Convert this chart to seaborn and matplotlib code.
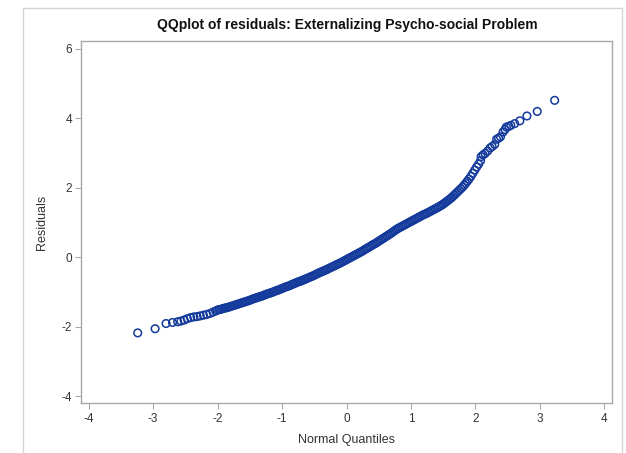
import matplotlib
matplotlib.use("Agg")
import matplotlib.pyplot as plt
from matplotlib.lines import Line2D
import seaborn as sns
import pandas as pd

title = "QQplot of residuals: Externalizing Psycho-social Problem"
x_label = "Normal Quantiles"
y_label = "Residuals"
x_ticks = [-4, -3, -2, -1, 0, 1, 2, 3, 4]
y_ticks = [-4, -2, 0, 2, 4, 6]

normal_quantiles = [
    -3.24, -2.97, -2.80, -2.70, -2.62, -2.57, -2.52, -2.47, -2.42, -2.37,
    -2.32, -2.27, -2.22, -2.17, -2.12, -2.07, -2.03,
    -2.000, -1.975, -1.950, -1.925, -1.900, -1.875, -1.850, -1.825, -1.800, -1.775,
    -1.750, -1.725, -1.700, -1.675, -1.650, -1.625, -1.600, -1.575, -1.550, -1.525,
    -1.500, -1.475, -1.450, -1.425, -1.400, -1.375, -1.350, -1.325, -1.300, -1.275,
    -1.250, -1.225, -1.200, -1.175, -1.150, -1.125, -1.100, -1.075, -1.050, -1.025,
    -1.000, -0.975, -0.950, -0.925, -0.900, -0.875, -0.850, -0.825, -0.800, -0.775,
    -0.750, -0.725, -0.700, -0.675, -0.650, -0.625, -0.600, -0.575, -0.550, -0.525,
    -0.500, -0.475, -0.450, -0.425, -0.400, -0.375, -0.350, -0.325, -0.300, -0.275,
    -0.250, -0.225, -0.200, -0.175, -0.150, -0.125, -0.100, -0.075, -0.050, -0.025,
    0.000, 0.025, 0.050, 0.075, 0.100, 0.125, 0.150, 0.175, 0.200, 0.225,
    0.250, 0.275, 0.300, 0.325, 0.350, 0.375, 0.400, 0.425, 0.450, 0.475,
    0.500, 0.525, 0.550, 0.575, 0.600, 0.625, 0.650, 0.675, 0.700, 0.725,
    0.750, 0.775, 0.800, 0.825, 0.850, 0.875, 0.900, 0.925, 0.950, 0.975,
    1.000, 1.025, 1.050, 1.075, 1.100, 1.125, 1.150, 1.175, 1.200, 1.225,
    1.250, 1.275, 1.300, 1.325, 1.350, 1.375, 1.400, 1.425, 1.450, 1.475,
    1.500, 1.525, 1.550, 1.575, 1.600, 1.625, 1.650, 1.675, 1.700, 1.725,
    1.750, 1.775, 1.800, 1.825, 1.850, 1.875, 1.900,
    1.93, 1.96, 1.99, 2.02, 2.05, 2.08, 2.09, 2.12, 2.15, 2.19, 2.23,
    2.26, 2.30, 2.33, 2.36, 2.39, 2.43, 2.46, 2.48, 2.52, 2.55,
    2.61, 2.69, 2.80, 2.96, 3.23,
]
residuals = [
    -2.18, -2.06, -1.91, -1.88, -1.86, -1.84, -1.81, -1.77, -1.74, -1.72,
    -1.71, -1.69, -1.67, -1.65, -1.62, -1.58, -1.55,
    -1.520, -1.510, -1.500, -1.485, -1.470, -1.460, -1.450, -1.435, -1.420, -1.405,
    -1.390, -1.375, -1.360, -1.345, -1.330, -1.315, -1.300, -1.285, -1.270, -1.255,
    -1.240, -1.220, -1.200, -1.185, -1.170, -1.155, -1.140, -1.125, -1.110, -1.090,
    -1.070, -1.055, -1.040, -1.025, -1.010, -0.990, -0.970, -0.955, -0.940, -0.920,
    -0.900, -0.880, -0.860, -0.845, -0.830, -0.810, -0.790, -0.770, -0.750, -0.730,
    -0.710, -0.695, -0.680, -0.660, -0.640, -0.620, -0.600, -0.580, -0.560, -0.540,
    -0.520, -0.495, -0.470, -0.450, -0.430, -0.410, -0.390, -0.370, -0.350, -0.325,
    -0.300, -0.280, -0.260, -0.235, -0.210, -0.190, -0.170, -0.145, -0.120, -0.095,
    -0.070, -0.045, -0.020, 0.005, 0.030, 0.055, 0.080, 0.105, 0.130, 0.155,
    0.180, 0.210, 0.240, 0.265, 0.290, 0.320, 0.350, 0.375, 0.400, 0.430,
    0.460, 0.490, 0.520, 0.550, 0.580, 0.610, 0.640, 0.670, 0.700, 0.735,
    0.770, 0.800, 0.830, 0.855, 0.880, 0.905, 0.930, 0.955, 0.980, 1.005,
    1.030, 1.055, 1.080, 1.105, 1.130, 1.155, 1.180, 1.205, 1.230, 1.250,
    1.270, 1.295, 1.320, 1.345, 1.370, 1.395, 1.420, 1.445, 1.470, 1.500,
    1.530, 1.565, 1.600, 1.635, 1.670, 1.710, 1.750, 1.795, 1.840, 1.885,
    1.930, 1.975, 2.020, 2.075, 2.130, 2.190, 2.250,
    2.33, 2.42, 2.51, 2.60, 2.68, 2.78, 2.90, 2.95, 2.99, 3.06, 3.15,
    3.19, 3.25, 3.40, 3.43, 3.47, 3.61, 3.68, 3.75, 3.77, 3.80,
    3.85, 3.93, 4.07, 4.20, 4.52,
]

df = pd.DataFrame({"q": normal_quantiles, "r": residuals})

sns.set_style("white")
plt.rcParams["font.family"] = ["Liberation Sans", "DejaVu Sans"]

fig = plt.figure(figsize=(6.26, 4.53), dpi=100)
ax = fig.add_axes([81 / 626, 1 - 403 / 453, (612 - 81) / 626, (403 - 41) / 453])

marker_color = "#143a9c"
sns.scatterplot(data=df, x="q", y="r", ax=ax, marker="o", s=30,
                facecolor="none", edgecolor=marker_color, linewidth=1.1,
                legend=False)

ax.set_xlim(-4.12, 4.12)
ax.set_ylim(-4.2, 6.23)
ax.set_xticks(x_ticks)
ax.set_yticks(y_ticks)
ax.set_xticklabels([str(t) for t in x_ticks])
ax.set_yticklabels([str(t) for t in y_ticks])

spine_color = "#a8a8a8"
for s in ax.spines.values():
    s.set_color(spine_color)
    s.set_linewidth(1.0)
ax.tick_params(axis="both", which="major", bottom=True, left=True,
               direction="out", length=4, width=0.8,
               color=spine_color, labelsize=8.5, labelcolor="#333333")
ax.tick_params(axis="y", pad=2.5)
ax.tick_params(axis="x", pad=3)

ax.set_xlabel(x_label, fontsize=9, color="#333333", labelpad=7)
ax.set_ylabel(y_label, fontsize=9, color="#333333", labelpad=10)

fig.text(347 / 626, 1 - 25 / 453, title, ha="center", va="center",
         fontsize=10, fontweight="bold", color="#111111")

# outer graph border
frame_color = "#d4d4d4"
fig.add_artist(Line2D([23 / 626, 23 / 626], [0, 1 - 8 / 453], transform=fig.transFigure,
                      color=frame_color, linewidth=1.0))
fig.add_artist(Line2D([622 / 626, 622 / 626], [0, 1 - 8 / 453], transform=fig.transFigure,
                      color=frame_color, linewidth=1.0))
fig.add_artist(Line2D([23 / 626, 622 / 626], [1 - 8 / 453, 1 - 8 / 453], transform=fig.transFigure,
                      color=frame_color, linewidth=1.0))

fig.savefig("out.png", dpi=100)
